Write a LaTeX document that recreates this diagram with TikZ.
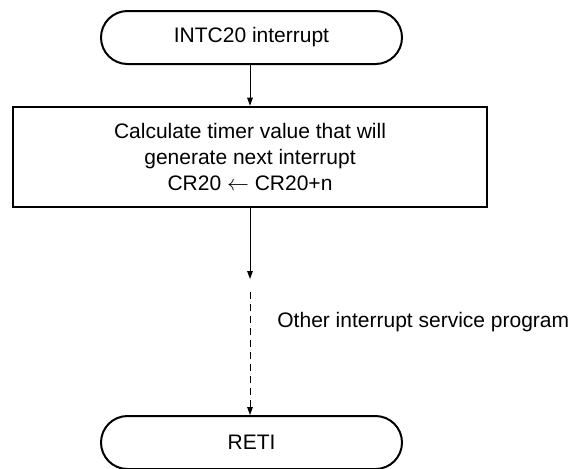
\documentclass[tikz,border=0pt]{standalone}
\usepackage{fontspec}
\setmainfont{Liberation Sans}
\usetikzlibrary{arrows.meta,positioning,shapes.misc}

\tikzset{
  terminal/.style={rounded rectangle, draw, line width=1pt, minimum width=150.5pt, minimum height=26.5pt, inner sep=0pt},
  procbox/.style={rectangle, draw, line width=1.3pt, minimum width=237pt, minimum height=50pt, align=center, inner sep=0pt},
  flow/.style={-{Triangle[length=4pt,width=2.8pt]}, line width=0.5pt},
}

\begin{document}
\begin{tikzpicture}[x=0.5pt, y=-0.5pt, font=\fontsize{10.5}{12.8}\selectfont, line cap=butt, line join=miter]

\useasboundingbox (0,0) rectangle (576,468);

\node[terminal] (start) at (251.5,37.5) {INTC20 interrupt};
\node[procbox] (calc) at (250,157) {Calculate timer value that will\\generate next interrupt\\CR20 $\leftarrow$ CR20+n};
\node[terminal] (reti) at (251.5,442.5) {RETI};

\coordinate (gapend) at (250,279);
\coordinate (gapstart) at (250,292);
\node[anchor=west, inner sep=0pt] (other) at (277,322) {Other interrupt service program};

\draw[flow] (start.south -| calc.north) -- (calc.north);
\draw[flow] (calc.south) -- (gapend);
\draw[flow, dash pattern=on 3.5pt off 2.5pt] (gapstart) -- (reti.north -| gapstart);

\end{tikzpicture}
\end{document}
